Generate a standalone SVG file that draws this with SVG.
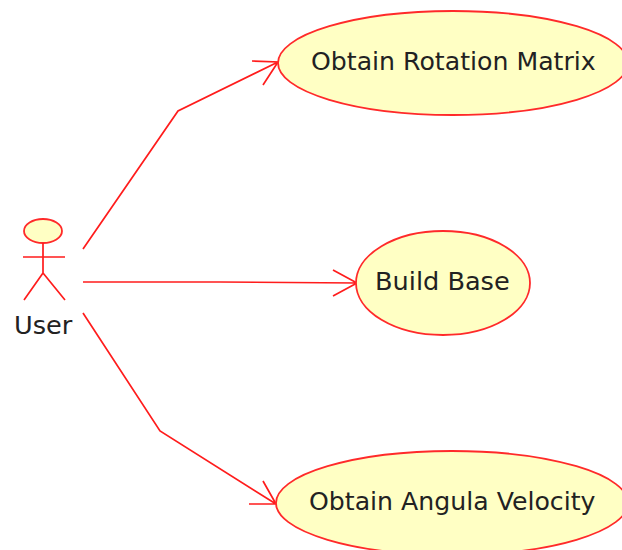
<svg xmlns="http://www.w3.org/2000/svg" width="622" height="550" viewBox="0 0 622 550">
<style>
.u{fill:#ffffc4;stroke:#ff2a2a;stroke-width:1.8}
.c{fill:none;stroke:#ff1c1c;stroke-width:1.7}
text{font-family:"DejaVu Sans",sans-serif;font-size:25.2px;fill:#222}
.w{font-size:25.6px}
</style>
<rect width="622" height="550" fill="#fff"/>
<g id="connectors">
<path class="c" d="M83 249L178 111L278 62M263 85L278 62L252 61"/>
<path class="c" d="M83 282L220 282L357 283M333 270L357 283L333 296"/>
<path class="c" d="M83 313L160 431L276 504M263 481L276 504L249 504"/>
</g>
<g id="actor-user">
<ellipse class="u" cx="43" cy="231" rx="19" ry="12"/>
<path class="c" d="M43 243V273M23 257H65M43 273L24 300M43 273L65 300"/>
<text class="w" x="14" y="334">User</text>
</g>
<g id="uc-rotation">
<ellipse class="u" cx="453" cy="63" rx="175" ry="52"/>
<text x="311" y="70">Obtain Rotation Matrix</text>
</g>
<g id="uc-base">
<ellipse class="u" cx="443" cy="283" rx="87" ry="52"/>
<text class="w" x="375" y="290">Build Base</text>
</g>
<g id="uc-velocity">
<ellipse class="u" cx="452" cy="503" rx="176" ry="52"/>
<text x="309" y="510">Obtain Angula Velocity</text>
</g>
</svg>
